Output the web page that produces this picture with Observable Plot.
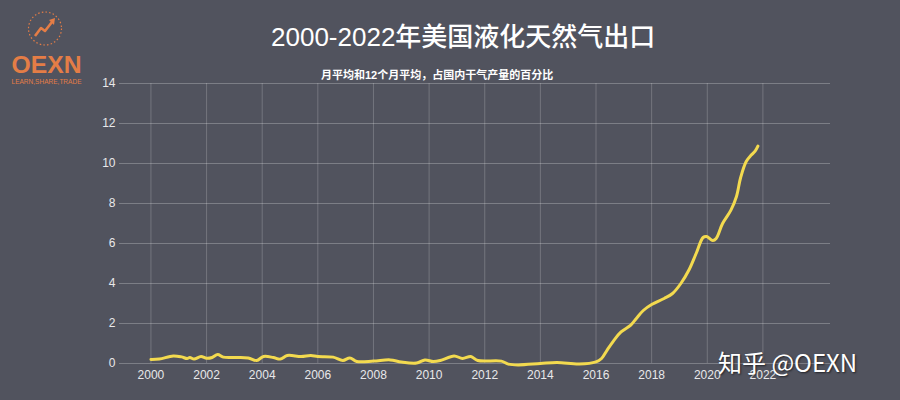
<!DOCTYPE html>
<html>
<head>
<meta charset="utf-8">
<script src="https://cdn.jsdelivr.net/npm/d3@7"></script>
<script src="https://cdn.jsdelivr.net/npm/@observablehq/plot@0.6"></script>
<style>
  html, body { margin: 0; padding: 0; background: #51535e; }
  #wrap { position: relative; width: 900px; height: 400px; background: #51535e; overflow: hidden;
          font-family: "Liberation Sans", "Noto Sans CJK SC", sans-serif; }
  #chart { position: absolute; left: 0; top: 0; }
  .title { position: absolute; left: 271px; top: 24px; font-size: 26px; line-height: 26px; color: #ffffff;
           font-family: "Liberation Sans", "Noto Sans CJK SC", sans-serif; font-weight: 500; white-space: nowrap; }
  .subtitle { position: absolute; left: 321px; top: 69px; font-size: 11px; line-height: 12px; color: #ffffff;
              font-family: "Liberation Sans", "Noto Sans CJK SC", sans-serif; font-weight: bold; white-space: nowrap; }
  .watermark { position: absolute; left: 718px; top: 349px; font-size: 24px; line-height: 26px; color: #ffffff;
               font-family: "Noto Sans CJK SC", "Liberation Sans", sans-serif; white-space: nowrap;
               text-shadow: 1px 1px 2px rgba(0,0,0,0.6); }
  #logo { position: absolute; left: 0; top: 0; }
</style>
</head>
<body>
<div id="wrap">
  <div id="chart"></div>
  <svg id="logo" width="100" height="95" viewBox="0 0 100 95">
    <circle cx="45" cy="28.5" r="16.5" fill="none" stroke="#e47d46" stroke-width="1.2" stroke-dasharray="1.5 2.2"/>
    <polyline points="35,36 41,28 45,31 52,22" fill="none" stroke="#e47d46" stroke-width="2.6" stroke-linejoin="round"/>
    <polygon points="55,18 49,20 54,25" fill="#e47d46"/>
    <text x="11.5" y="72.5" font-family="Liberation Sans, sans-serif" font-weight="bold" font-size="24" fill="#e47d46" textLength="70" lengthAdjust="spacingAndGlyphs">OEXN</text>
    <text x="11.5" y="83.5" font-family="Liberation Sans, sans-serif" font-size="7.5" fill="#e47d46" textLength="70" lengthAdjust="spacingAndGlyphs">LEARN,SHARE,TRADE</text>
  </svg>
  <div class="title">2000-2022年美国液化天然气出口</div>
  <div class="subtitle">月平均和12个月平均，占国内干气产量的百分比</div>
  <div class="watermark">知乎 @OEXN</div>
</div>
<script>
// Data (decimal year, % of domestic dry gas production)
const years = [
  2000.0, 2000.3, 2000.8, 2001.1, 2001.3, 2001.4, 2001.55, 2001.8, 2002.0, 2002.2,
  2002.4, 2002.6, 2003.0, 2003.5, 2003.8, 2004.05, 2004.4, 2004.65, 2004.9, 2005.4,
  2005.75, 2006.0, 2006.55, 2006.9, 2007.15, 2007.4, 2008.0, 2008.6, 2009.0, 2009.55,
  2009.85, 2010.15, 2010.4, 2010.9, 2011.2, 2011.5, 2011.75, 2012.6, 2012.85, 2013.2,
  2014.0, 2014.6, 2015.4, 2016.0, 2016.2, 2016.4, 2016.65, 2016.9, 2017.25, 2017.45,
  2017.7, 2018.0, 2018.45, 2018.75, 2019.05, 2019.35, 2019.6, 2019.85, 2019.98, 2020.2,
  2020.32, 2020.55, 2020.85, 2021.05, 2021.2, 2021.4, 2021.58, 2021.72, 2021.82
];
const values = [
  0.20, 0.22, 0.38, 0.33, 0.25, 0.30, 0.22, 0.35, 0.26, 0.30,
  0.45, 0.32, 0.30, 0.28, 0.15, 0.35, 0.30, 0.22, 0.40, 0.35,
  0.40, 0.35, 0.32, 0.15, 0.28, 0.10, 0.12, 0.18, 0.07, 0.02,
  0.18, 0.10, 0.15, 0.38, 0.25, 0.35, 0.15, 0.12, -0.03, -0.07,
  0.00, 0.05, -0.03, 0.08, 0.25, 0.67, 1.17, 1.58, 1.92, 2.25,
  2.65, 2.95, 3.25, 3.50, 4.00, 4.70, 5.50, 6.30, 6.35, 6.15,
  6.25, 7.00, 7.67, 8.35, 9.30, 10.10, 10.42, 10.62, 10.87
];
const xTicks = [2000, 2002, 2004, 2006, 2008, 2010, 2012, 2014, 2016, 2018, 2020, 2022];
const yTicks = [0, 2, 4, 6, 8, 10, 12, 14];

const data = years.map((t, i) => ({t, v: values[i]}));

const chart = Plot.plot({
  width: 900,
  height: 400,
  marginLeft: 119,
  marginRight: 70,
  marginTop: 83,
  marginBottom: 37,
  style: {background: "transparent", color: "#e8e8ea", fontSize: "12px",
          fontFamily: "Liberation Sans, Noto Sans CJK SC, sans-serif"},
  x: {domain: [1998.87, 2024.43]},
  y: {domain: [0, 14]},
  marks: [
    Plot.gridY(yTicks, {stroke: "#ffffff", strokeOpacity: 0.25, strokeWidth: 1}),
    Plot.gridX(xTicks, {stroke: "#ffffff", strokeOpacity: 0.2, strokeWidth: 1}),
    Plot.axisY(yTicks, {tickSize: 0, tickPadding: 4, label: null, tickFormat: d => String(d)}),
    Plot.axisX(xTicks, {tickSize: 0, tickPadding: 7, label: null, tickFormat: d => String(d)}),
    Plot.line(data, {x: "t", y: "v", stroke: "#f3da4f", strokeWidth: 3, curve: "catmull-rom",
                     strokeLinejoin: "round", strokeLinecap: "round"})
  ]
});
document.getElementById("chart").appendChild(chart);
</script>
</body>
</html>
